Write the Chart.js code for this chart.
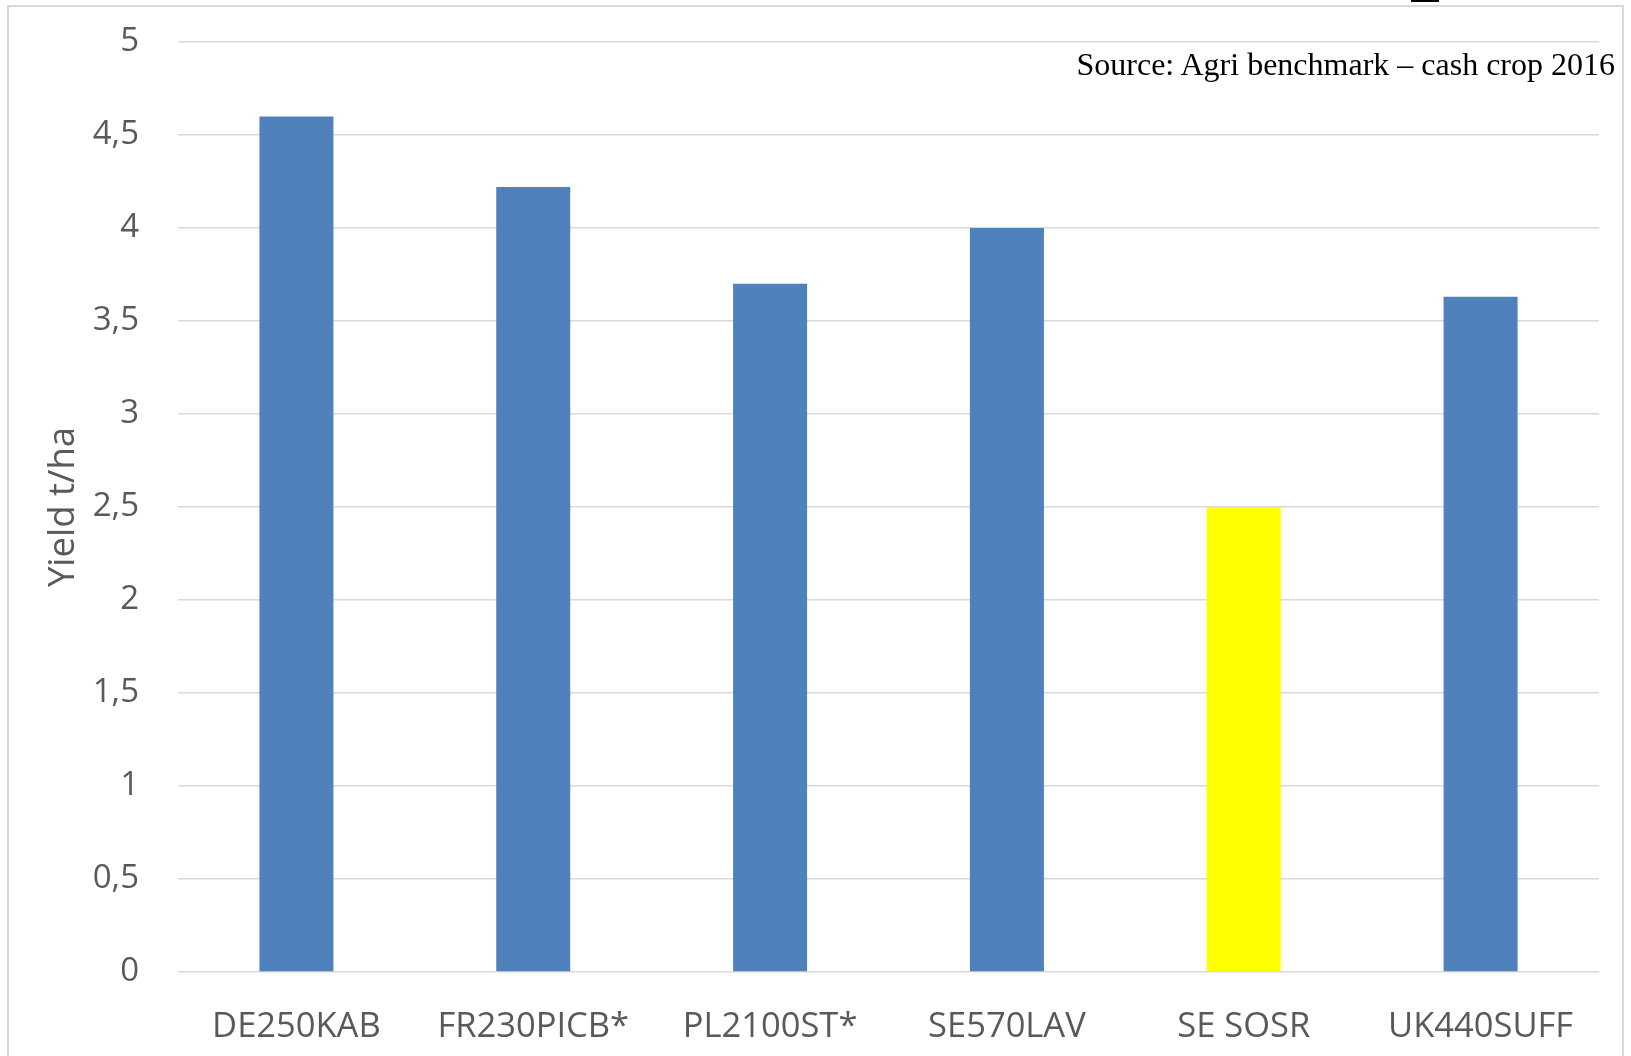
<!DOCTYPE html>
<html>
<head>
<meta charset="utf-8">
<script src="https://cdn.jsdelivr.net/npm/chart.js@4/dist/chart.umd.min.js"></script>
<style>
    html, body { margin: 0; padding: 0; background: #fff; overflow: hidden; }
    #wrap { position: relative; width: 1631px; height: 1056px; }
    #yieldChart { position: absolute; left: 0; top: 0; }
    #frame {
        position: absolute; left: 7px; top: 5px; width: 1617px; height: 1100px;
        box-sizing: border-box; border: 2px solid #d9d9d9; pointer-events: none;
    }
    #source {
        position: absolute; right: 16px; top: 46px;
        font-family: "Liberation Serif", "Times New Roman", serif; font-size: 32px;
        color: #000; white-space: nowrap;
    }
    #mark { position: absolute; left: 1411px; top: 0; width: 28px; height: 2px; background: #000; }
</style>
</head>
<body>
<div id="wrap">
    <canvas id="yieldChart" width="1631" height="1056"></canvas>
    <div id="frame"></div>
    <div id="mark"></div>
    <div id="source">Source: Agri benchmark – cash crop 2016</div>
</div>
<script>
// 数据
const categories = ['DE250KAB', 'FR230PICB*', 'PL2100ST*', 'SE570LAV', 'SE SOSR', 'UK440SUFF'];
const yieldValues = [4.6, 4.22, 3.7, 4.0, 2.5, 3.63];
const barColors = ['#4f81bd', '#4f81bd', '#4f81bd', '#4f81bd', '#ffff00', '#4f81bd'];
const yMin = 0;
const yMax = 5;
const yStep = 0.5;
const yTitle = 'Yield t/ha';

const labelGrey = '#595959';

// 小数点用逗号
function formatTick(value) {
    return value.toString().replace('.', ',');
}

const ctx = document.getElementById('yieldChart');

const yieldChart = new Chart(ctx.getContext('2d'), {
    type: 'bar',
    data: {
        labels: categories,
        datasets: [{
            label: yTitle,
            data: yieldValues,
            backgroundColor: barColors,
            borderWidth: 0,
            categoryPercentage: 1,
            barPercentage: 0.3125
        }]
    },
    options: {
        responsive: false,
        animation: false,
        devicePixelRatio: 1,
        layout: {
            padding: { left: 0, top: 42, right: 32, bottom: 0 }
        },
        plugins: {
            legend: { display: false },
            tooltip: { enabled: false }
        },
        scales: {
            x: {
                grid: { display: false },
                border: { display: false },
                ticks: {
                    color: labelGrey,
                    font: { family: 'Open Sans', size: 34.5 },
                    padding: 26,
                    maxRotation: 0,
                    autoSkip: false
                },
                afterFit: function(scale) {
                    scale.height = 84;
                }
            },
            y: {
                min: yMin,
                max: yMax,
                border: { display: false },
                grid: { color: '#d9d9d9', lineWidth: 1.5, drawTicks: false },
                ticks: {
                    stepSize: yStep,
                    color: labelGrey,
                    font: { family: 'Open Sans', size: 33 },
                    padding: 39,
                    callback: function(value) {
                        return formatTick(value);
                    }
                },
                title: {
                    display: true,
                    text: yTitle,
                    color: labelGrey,
                    font: { family: 'Open Sans', size: 36.5 },
                    padding: { top: 42, bottom: 0 }
                },
                afterFit: function(scale) {
                    scale.width = 178;
                    // 不让刻度标签撑开绘图区
                    scale.paddingTop = 0;
                    scale.paddingBottom = 0;
                }
            }
        }
    }
});
</script>
</body>
</html>
